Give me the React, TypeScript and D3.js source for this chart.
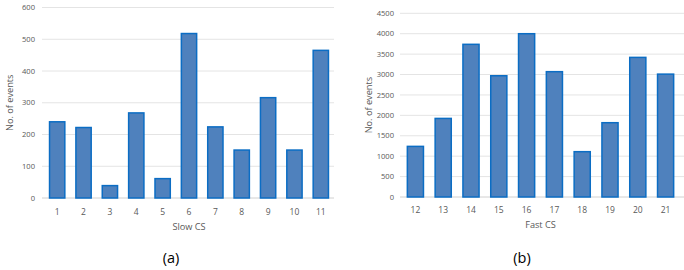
import React from "react";
import * as d3 from "d3";

const slowCats = ["1", "2", "3", "4", "5", "6", "7", "8", "9", "10", "11"];
const slowValues = [240, 222, 39, 268, 61, 518, 224, 151, 316, 151, 465];
const slowTicks = [0, 100, 200, 300, 400, 500, 600];

const fastCats = ["12", "13", "14", "15", "16", "17", "18", "19", "20", "21"];
const fastValues = [1240, 1925, 3740, 2970, 4000, 3070, 1110, 1820, 3420, 3010];
const fastTicks = [0, 500, 1000, 1500, 2000, 2500, 3000, 3500, 4000, 4500];

const FONT = "'Open Sans', 'Noto Sans', sans-serif";
const TXT = "#595959";

type PanelProps = {
  cats: string[];
  values: number[];
  ticks: number[];
  x0: number;
  x1: number;
  gridX0: number;
  gridX1: number;
  yTop: number;
  yBottom: number;
  tickRight: number;
  yTitleX: number;
  xTickY: number;
  xTitle: string;
  xTitleY: number;
  panelLabel: string;
  panelLabelX: number;
};

function Panel(p: PanelProps) {
  const x = d3.scaleBand<string>().domain(p.cats).range([p.x0, p.x1]).paddingInner(0.42).paddingOuter(0.21);
  const y = d3.scaleLinear().domain([0, p.ticks[p.ticks.length - 1]]).range([p.yBottom, p.yTop]);
  const cx = (p.x0 + p.x1) / 2;
  return (
    <g>
      {p.ticks.map((t) => (
        <g key={t}>
          <line x1={p.gridX0} x2={p.gridX1} y1={y(t)} y2={y(t)} stroke={t === 0 ? "#d0d0d0" : "#e4e4e4"} strokeWidth={1} />
          <text x={p.tickRight} y={y(t)} dy="0.35em" textAnchor="end" fontSize={7.6} fill={TXT} fontFamily={FONT}>
            {t}
          </text>
        </g>
      ))}
      {p.cats.map((c, i) => (
        <rect
          key={c}
          x={x(c)!}
          y={y(p.values[i])}
          width={x.bandwidth()}
          height={y(0) - y(p.values[i])}
          fill="#4f81bd"
          stroke="#0b6dc4"
          strokeWidth={1.5}
        />
      ))}
      {p.cats.map((c) => (
        <text key={c} x={x(c)! + x.bandwidth() / 2} y={p.xTickY} dy="0.35em" textAnchor="middle" fontSize={8.5} fill={TXT} fontFamily={FONT}>
          {c}
        </text>
      ))}
      <text
        transform={`translate(${p.yTitleX},${(p.yTop + p.yBottom) / 2}) rotate(-90)`}
        textAnchor="middle"
        dy="0.35em"
        fontSize={9.2}
        fill={TXT}
        fontFamily={FONT}
      >
        No. of events
      </text>
      <text x={cx} y={p.xTitleY} dy="0.35em" textAnchor="middle" fontSize={9.2} fill={TXT} fontFamily={FONT}>
        {p.xTitle}
      </text>
      <text x={p.panelLabelX} y={258} dy="0.35em" textAnchor="middle" fontSize={14.5} fill="#000" fontFamily={FONT}>
        {p.panelLabel}
      </text>
    </g>
  );
}

export default function App() {
  return (
    <svg width={684} height={270} style={{ position: "absolute", left: 0, top: 0, background: "#fff" }}>
      <rect x={0} y={0} width={684} height={270} fill="#fff" />
      <Panel
        cats={slowCats}
        values={slowValues}
        ticks={slowTicks}
        x0={44}
        x1={334}
        gridX0={42}
        gridX1={334}
        yTop={7.5}
        yBottom={198}
        tickRight={35}
        yTitleX={10}
        xTickY={212}
        xTitle="Slow CS"
        xTitleY={227}
        panelLabel="(a)"
        panelLabelX={171}
      />
      <Panel
        cats={fastCats}
        values={fastValues}
        ticks={fastTicks}
        x0={401.5}
        x1={679.5}
        gridX0={400}
        gridX1={684}
        yTop={13.3}
        yBottom={197}
        tickRight={394}
        yTitleX={369}
        xTickY={210}
        xTitle="Fast CS"
        xTitleY={224.5}
        panelLabel="(b)"
        panelLabelX={522}
      />
    </svg>
  );
}
